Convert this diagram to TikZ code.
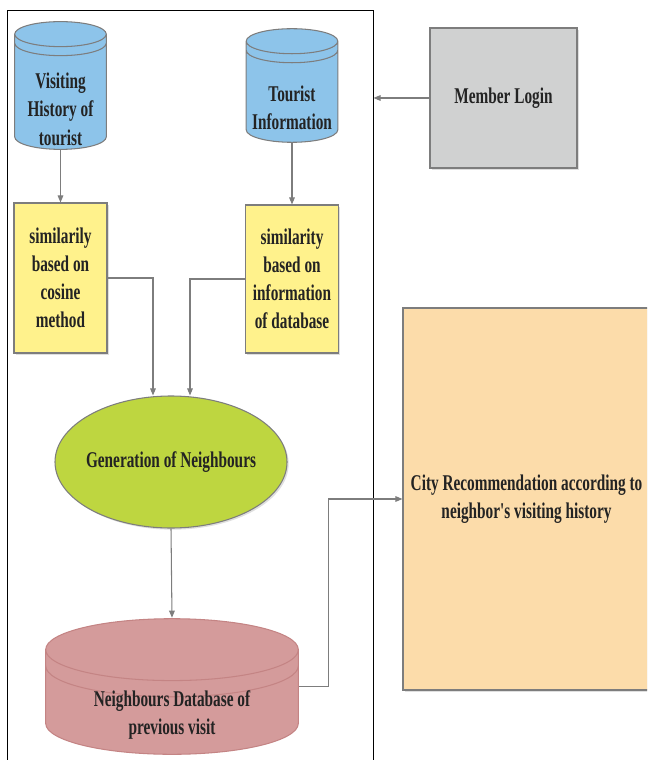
\documentclass[tikz,border=0pt]{standalone}
\usepackage{fontspec}
\setmainfont{Liberation Serif}[FakeStretch=0.68, Ligatures=TeXOff]
\usepackage{xcolor}
\usetikzlibrary{positioning,calc,arrows.meta,shapes.geometric,shadows}

\definecolor{dbblue}{RGB}{141,196,234}
\definecolor{simyellow}{RGB}{255,242,140}
\definecolor{gengreen}{RGB}{190,214,64}
\definecolor{dbpink}{RGB}{212,155,155}
\definecolor{dbpinkline}{RGB}{196,132,132}
\definecolor{recorange}{RGB}{252,220,170}
\definecolor{logingray}{RGB}{208,209,209}
\definecolor{linegray}{RGB}{125,125,125}
\definecolor{textdark}{RGB}{35,35,35}

\def\px{0.025cm}

\begin{document}
\begin{tikzpicture}[x=0.025cm,y=0.025cm,
        font=\fontsize{16}{20}\selectfont\bfseries, text=textdark,
        link/.style={draw=linegray, line width=0.75pt, -{Triangle[length=5pt,width=4pt]}},
        main node/.style={draw=linegray, line width=0.75pt, rectangle, align=center,
            drop shadow={shadow xshift=1.2pt, shadow yshift=-1.2pt, opacity=0.25}},
        db fill/.store in=\dbfill, db line/.store in=\dbline,
        db cap/.store in=\dbcap, db gap/.store in=\dbgap,
        db node/.style={rectangle, align=center, path picture={
            \draw[fill=\dbfill, draw=\dbline, line width=0.75pt]
              let \p1=(path picture bounding box.north west),
                  \p2=(path picture bounding box.south east),
                  \n1={(\x2-\x1)/2-0.5pt} in
              (\x1+0.5pt,\y1-\dbcap-0.5pt) -- (\x1+0.5pt,\y2+\dbcap+0.5pt)
                arc[start angle=180, end angle=360, x radius=\n1, y radius=\dbcap]
                -- (\x2-0.5pt,\y1-\dbcap-0.5pt)
                arc[start angle=0, end angle=180, x radius=\n1, y radius=\dbcap] -- cycle
              (\x1+0.5pt,\y1-\dbcap-0.5pt)
                arc[start angle=180, end angle=360, x radius=\n1, y radius=\dbcap]
              (\x1+0.5pt,\y1-\dbcap-\dbgap-0.5pt)
                arc[start angle=180, end angle=360, x radius=\n1, y radius=\dbcap];
        }}]

\useasboundingbox (0,0) rectangle (647,-760);
\clip (0,0) rectangle (647,-760);

% frame round the left part
\node[draw=black, line width=0.7pt, minimum width=366*\px, minimum height=790*\px] (0) at (190,-405) {};

\node[db node, db fill=dbblue, db line=linegray, db cap=8.9pt, db gap=6.4pt,
      minimum width=93*\px, minimum height=115*\px] (1) at (60.5,-85.5)
      {\mbox{}\\[25pt]Visiting\\History of\\tourist};
\node[db node, db fill=dbblue, db line=linegray, db cap=8.9pt, db gap=6.4pt,
      minimum width=93*\px, minimum height=115*\px] (3) at (292,-85.5)
      {\mbox{}\\[23pt]Tourist\\Information};

\node[main node, fill=simyellow, minimum width=93*\px, minimum height=150*\px] (2) at (60.5,-278)
      {similarily\\based on\\cosine\\method};
\node[main node, fill=simyellow, minimum width=93*\px, minimum height=148*\px] (4) at (292,-279)
      {similarity\\based on\\information\\of database};

\node[main node, ellipse, inner sep=0pt, fill=gengreen, minimum width=232*\px, minimum height=132*\px] (5) at (171,-462)
      {\makebox[0pt]{Generation of Neighbours}};

\node[db node, db fill=dbpink, db line=dbpinkline, db cap=22pt, db gap=11.5pt,
      minimum width=254*\px, minimum height=137*\px] (6) at (172,-686.5)
      {\mbox{}\\[32pt]Neighbours Database of\\previous visit};

\node[main node, fill=recorange, minimum width=247*\px, minimum height=382*\px] (7) at (526.5,-499)
      {City Recommendation according to\\neighbor's visiting history};

\node[main node, fill=logingray, minimum width=147*\px, minimum height=140*\px] (8) at (503.5,-98)
      {Member Login};

\draw[link] (1.south) -- (2.north);
\draw[link] (3.south) -- (4.north);
\draw[link] (2.east) -| ([xshift=-18*\px]5.north);
\draw[link] (4.west) -| ([xshift=19*\px]5.north);
\draw[link] (5.south) -- (6.north);
\draw[link] (6.east) -- ++(29,0) |- (7.west);
\draw[link] (8.west) -- (8.west -| 0.east);

\end{tikzpicture}
\end{document}
